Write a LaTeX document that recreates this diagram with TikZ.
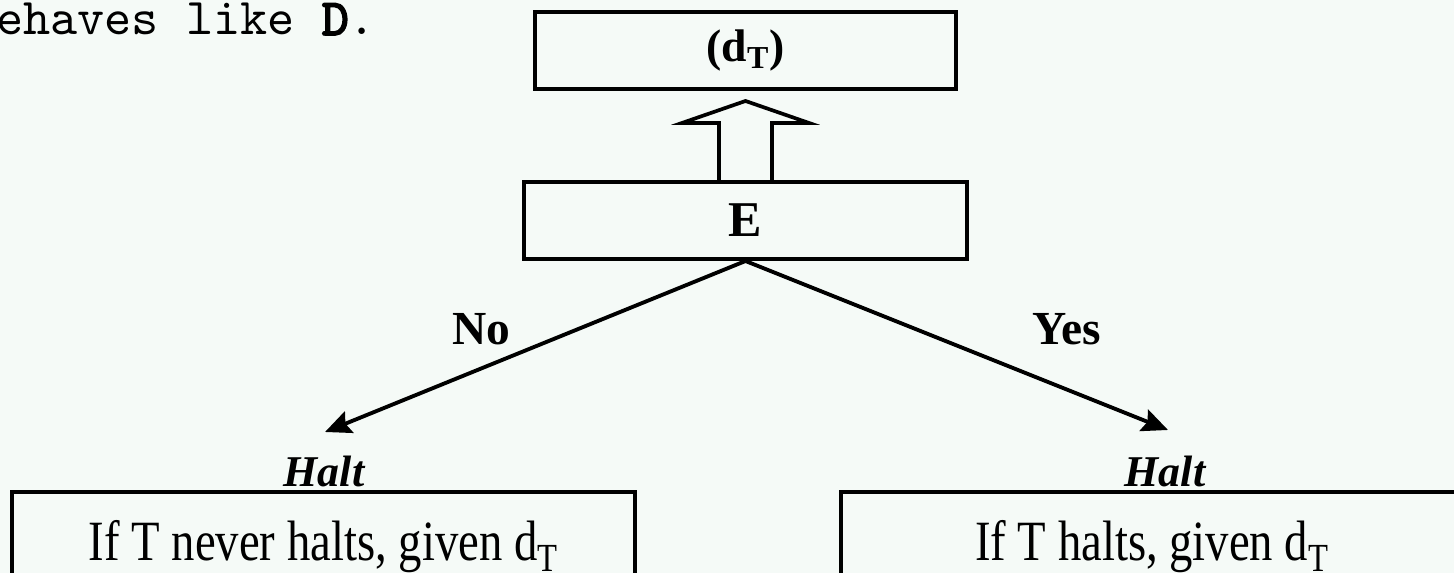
\documentclass[tikz,border=0pt]{standalone}
\usepackage{fontspec}
\usepackage{graphicx}
\setmainfont{Liberation Serif}
\newfontfamily\typewriter{lmmono10-regular.otf}[AutoFakeBold=3]
\usetikzlibrary{arrows.meta,calc}
\definecolor{paper}{RGB}{245,250,247}
\newcommand{\squeeze}[1]{\scalebox{0.82}[1]{#1}}
\tikzset{
	box/.style={draw, line width=2.3pt, inner sep=0pt},
	choice/.style={draw, line width=2.2pt, -{Stealth[length=0.52cm,width=0.46cm,inset=0.08cm]}},
	hollow/.style={draw, line width=2.1pt, line join=miter},
	caseword/.style={font=\bfseries\fontsize{27}{30}\selectfont},
	haltword/.style={font=\bfseries\itshape\fontsize{25}{28}\selectfont}
}

\begin{document}
\begin{tikzpicture}[x=0.02cm, y=-0.02cm]
		% Page
		\fill[paper] (0,0) rectangle (1454,573);
		\useasboundingbox (0,0) rectangle (1454,573);
		
		\node[anchor=base west, inner sep=0pt, font=\typewriter\fontsize{29.4}{33}\selectfont] (intro) at (-4,35) {ehaves like \textbf{D}.};
		
		% Machine E and its output
		\node[box, minimum width=8.42cm, minimum height=1.54cm, font=\bfseries\fontsize{26}{30}\selectfont] (dT) at (745.5,50.5) {\raisebox{-0.18cm}{(d\textsubscript{T})}};
		\node[box, minimum width=8.88cm, minimum height=1.54cm, font=\bfseries\fontsize{28.5}{32}\selectfont] (E) at (745.5,220.5) {E};
		
		\draw[hollow] ($(E.north)+(-26.5,0)$) -- ($(E.north)+(-26.5,-57)$) -- ($(E.north)+(-63.5,-57)$)
			-- ($(E.north)+(0,-79)$) -- ($(E.north)+(63.5,-57)$) -- ($(E.north)+(26.5,-57)$) -- ($(E.north)+(26.5,0)$);
		
		% Branches
		\coordinate (noTip) at (325,432);
		\coordinate (yesTip) at (1168,430);
		\draw[choice] (E.south) -- (noTip);
		\draw[choice] (E.south) -- (yesTip);
		
		\node[caseword] (no) at (481,329) {No};
		\node[caseword] (yes) at (1067,329) {Yes};
		
		% Halting cases
		\node[haltword] (haltL) at (324,471) {Halt};
		\node[haltword] (haltR) at (1165,471) {Halt};
		
		\node[box, minimum width=12.46cm, minimum height=2.19cm, font=\fontsize{32.4}{36}\selectfont] (never) at (323.5,546.7) {\squeeze{\raisebox{0.05cm}{If T never halts, given d\textsubscript{T}}}};
		\node[box, minimum width=12.46cm, minimum height=2.19cm, font=\fontsize{32.4}{36}\selectfont] (halts) at (1152,546.7) {\squeeze{\raisebox{0.05cm}{If T halts, given d\textsubscript{T}}}};
	\end{tikzpicture}
\end{document}
